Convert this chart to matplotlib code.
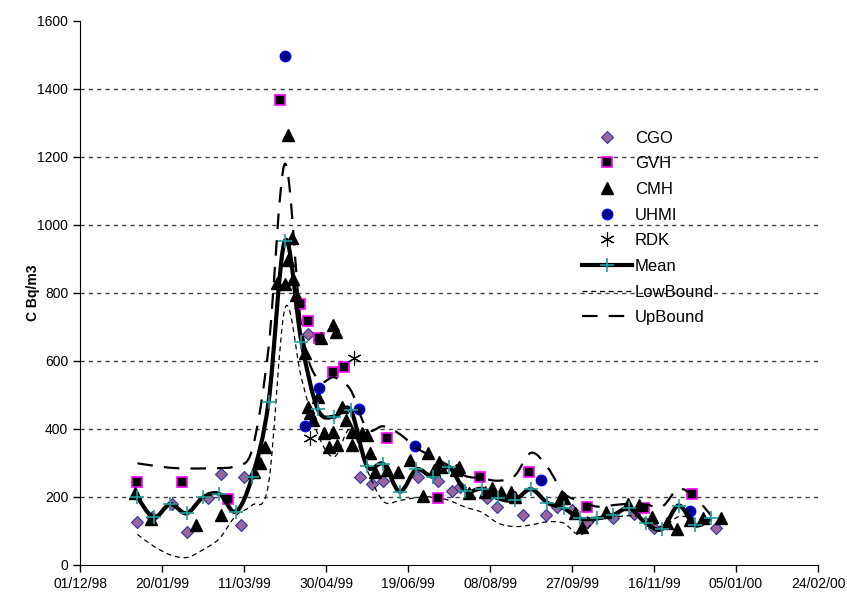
"""Radon concentration at several stations with mean and bounds (Dec 98 - Feb 00)."""

import matplotlib
matplotlib.use("Agg")
import matplotlib.dates as mdates
import matplotlib.pyplot as plt
import numpy as np
from matplotlib.lines import Line2D
from matplotlib.patches import PathPatch
from matplotlib.path import Path

plt.rcParams["font.family"] = ["Liberation Sans", "DejaVu Sans"]

START = np.datetime64("1998-12-01")

# station samples: (days after 01/12/98, C Bq/m3)
cgo_day = [35, 44, 56, 65, 78, 86, 98, 100, 139, 171, 178, 185, 206, 218, 227,
           232, 248, 254, 270, 284, 291, 300, 309, 325, 338, 350, 388]
cgo_val = [127, 141, 179, 97, 197, 268, 118, 259, 679, 259, 238, 247, 259, 247,
           218, 229, 197, 171, 147, 147, 171, 162, 126, 138, 150, 109, 109]

gvh_day = [35, 62, 90, 122, 134, 139, 146, 154, 161, 187, 218, 244, 274, 309,
           344, 373]
gvh_val = [245, 245, 194, 1368, 768, 719, 669, 569, 581, 373, 198, 258, 273,
           170, 167, 209]

cmh_day = [33.5, 43, 71, 86, 106, 110, 113, 120, 125, 127, 127, 129, 130, 132,
           137, 139, 140, 142, 145, 147, 149, 152, 154, 154, 156, 157, 160,
           162, 166, 166, 172, 175, 177, 180, 187, 194, 201, 209, 212, 216,
           219, 220, 229, 231, 237, 247, 251, 257, 263, 265, 293, 295, 302,
           306, 321, 334, 341, 349, 358, 364, 372, 380, 391]
cmh_val = [213, 135, 117, 147, 274, 300, 346, 828, 826, 1265, 897, 961, 840,
           794, 625, 466, 446, 426, 495, 667, 387, 348, 706, 392, 686, 353,
           466, 426, 392, 353, 387, 382, 328, 274, 279, 274, 309, 204, 328,
           279, 304, 289, 279, 289, 211, 216, 226, 216, 214, 201, 201, 196,
           152, 113, 156, 179, 176, 140, 123, 105, 132, 137, 137]

uhmi_day = [125, 137, 146, 170, 204, 281, 372]
uhmi_val = [1497, 410, 520, 458, 350, 250, 160]

rdk_day = [140, 167]
rdk_val = [373, 608]

# 10-day mean and bounds, starting 05/01/99
grid_day = np.arange(35, 386, 10)
mean_val = [199, 140, 179, 152, 199, 209, 157, 260, 480, 954, 657, 458, 436,
            456, 291, 297, 216, 281, 260, 287, 218, 224, 196, 191, 223, 183,
            167, 137, 137, 147, 167, 123, 106, 175, 117, 137]
low_val = [90, 55, 30, 22, 45, 78, 145, 176, 240, 755, 550, 385, 318, 400,
           280, 187, 190, 198, 200, 190, 170, 155, 123, 113, 118, 127, 123,
           88, 135, 140, 145, 137, 113, 142, 137, 130]
up_val = [299, 292, 286, 284, 284, 285, 292, 340, 640, 1180, 700, 545, 552,
          515, 400, 408, 385, 345, 318, 292, 262, 255, 248, 262, 330, 288,
          211, 188, 172, 176, 180, 178, 172, 224, 198, 145]


def to_dates(days):
    return START + (np.asarray(days, dtype=float) * 24).astype("timedelta64[h]")


def smooth_line(ax, days, vals, **kw):
    # Excel-style smoothed line: cubic Bezier through every point
    pts = np.column_stack([mdates.date2num(to_dates(days)), vals]).astype(float)
    verts, codes = [pts[0]], [Path.MOVETO]
    n = len(pts)
    for i in range(n - 1):
        p0 = pts[max(i - 1, 0)]
        p1, p2 = pts[i], pts[i + 1]
        p3 = pts[min(i + 2, n - 1)]
        verts += [p1 + (p2 - p0) / 6, p2 - (p3 - p1) / 6, p2]
        codes += [Path.CURVE4] * 3
    ax.add_patch(PathPatch(Path(verts, codes), fill=False, **kw))


fig = plt.figure(figsize=(8.47, 5.93), dpi=100)
ax = fig.add_axes([80 / 847, 28 / 593, 738 / 847, 544 / 593])

h_cgo, = ax.plot(to_dates(cgo_day), cgo_val, ls="none", marker="D", ms=6.5,
                 mfc="#996699", mec="#3333AA", mew=0.8, zorder=3)
h_gvh, = ax.plot(to_dates(gvh_day), gvh_val, ls="none", marker="s", ms=7,
                 mfc="black", mec="#FF00FF", mew=1.2, zorder=3)
h_cmh, = ax.plot(to_dates(cmh_day), cmh_val, ls="none", marker="^", ms=8.5,
                 color="black", zorder=3)
h_uhmi, = ax.plot(to_dates(uhmi_day), uhmi_val, ls="none", marker="o", ms=7.5,
                  mfc="#000080", mec="#0000FF", mew=1, zorder=3)
h_rdk, = ax.plot(to_dates(rdk_day), rdk_val, ls="none", marker=(6, 2, 0),
                 ms=10, color="black", mew=0.8, zorder=3)

smooth_line(ax, grid_day, mean_val, ec="black", lw=3, zorder=4)
ax.plot(to_dates(grid_day), mean_val, ls="none", marker="+", ms=10,
        mec="#20A0A0", mew=1.2, zorder=5)
smooth_line(ax, grid_day, low_val, ec="black", lw=0.9, ls=(0, (4, 3)),
            zorder=4)
smooth_line(ax, grid_day, up_val, ec="black", lw=1.6, ls=(0, (7, 5)),
            zorder=4)

h_mean = Line2D([], [], color="black", lw=3, marker="+", ms=10,
                mec="#20A0A0", mew=1.2)
h_low = Line2D([], [], color="black", lw=0.9, ls=(0, (4, 3)))
h_up = Line2D([], [], color="black", lw=1.6, ls=(0, (7, 5)))

ax.set_ylim(0, 1600)
ax.set_yticks(range(0, 1601, 200))
ax.set_xlim(to_dates([0])[0], to_dates([450])[0])
ax.set_xticks(to_dates(np.arange(0, 451, 50)))
ax.xaxis.set_major_formatter(mdates.DateFormatter("%d/%m/%y"))
ax.tick_params(labelsize=10, direction="out", length=5, width=1)
for y in range(200, 1401, 200):
    ax.axhline(y, color="#404040", lw=1, ls=(0, (3, 3)), zorder=1)
for s in ("top", "right"):
    ax.spines[s].set_visible(False)
ax.set_ylabel("C Bq/m3", fontsize=10, fontweight="bold", labelpad=-2)

ax.legend([h_cgo, h_gvh, h_cmh, h_uhmi, h_rdk, h_mean, h_low, h_up],
          ["CGO", "GVH", "CMH", "UHMI", "RDK", "Mean", "LowBound", "UpBound"],
          loc="upper left", bbox_to_anchor=(575 / 847, 1 - 124 / 593),
          bbox_transform=fig.transFigure, frameon=False, fontsize=12,
          handlelength=3.0, handletextpad=0.2, labelspacing=0.64,
          borderaxespad=0)

fig.savefig("out.png", dpi=100)
